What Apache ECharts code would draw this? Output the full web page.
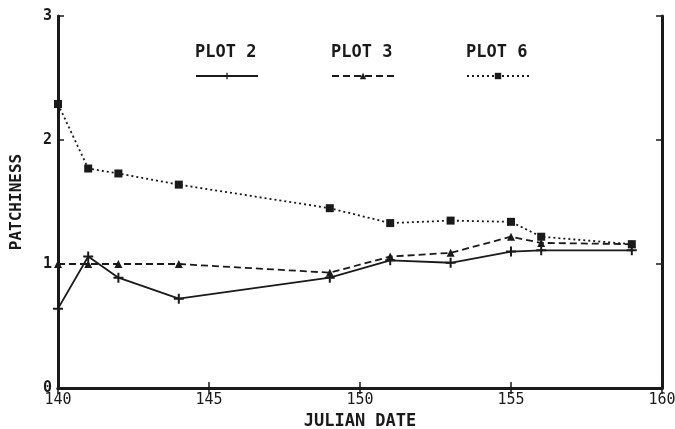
<!DOCTYPE html>
<html>
<head>
<meta charset="utf-8">
<script src="https://cdn.jsdelivr.net/npm/echarts@6/dist/echarts.min.js"></script>
<style>
  html, body { margin: 0; padding: 0; background: #fff; }
  #chart { width: 675px; height: 429px; }
</style>
</head>
<body>
<div id="chart"></div>
<script>
// julian dates sampled
var days = [140, 141, 142, 144, 149, 151, 153, 155, 156, 159];
// patchiness per plot
var plot2 = [0.64, 1.06, 0.89, 0.72, 0.89, 1.03, 1.01, 1.10, 1.11, 1.11];
var plot3 = [1.00, 1.00, 1.00, 1.00, 0.93, 1.06, 1.09, 1.22, 1.17, 1.16];
var plot6 = [2.29, 1.77, 1.73, 1.64, 1.45, 1.33, 1.35, 1.34, 1.22, 1.16];
var seriesNames = ['PLOT 2', 'PLOT 3', 'PLOT 6'];

var ink = '#1a1a1a';
var font = 'DejaVu Sans Mono';
var plusSym = 'path://M4,0H6V4H10V6H6V10H4V6H0V4H4Z';

function pairs(ys) {
    return days.map(function (d, i) { return [d, ys[i]]; });
}

function legendAt(i, x) {
    return {
        data: [seriesNames[i]], left: x, top: 72, padding: 0,
        itemWidth: 62, itemHeight: 8,
        formatter: function () { return ''; }
    };
}

var axisLine = { show: true, lineStyle: { color: ink, width: 3 } };
var tick = { show: true, inside: true, length: 6, lineStyle: { color: ink, width: 1.5 } };

var option = {
    animation: false,
    grid: { left: 58, right: 13, top: 16, bottom: 41, containLabel: false, outerBoundsMode: 'none' },
    legend: [legendAt(0, 195), legendAt(1, 331), legendAt(2, 466)],
    graphic: [
        { type: 'text', left: 195, top: 44, style: { text: seriesNames[0], font: 'bold 17px ' + font, fill: ink } },
        { type: 'text', left: 331, top: 44, style: { text: seriesNames[1], font: 'bold 17px ' + font, fill: ink } },
        { type: 'text', left: 466, top: 44, style: { text: seriesNames[2], font: 'bold 17px ' + font, fill: ink } }
    ],
    xAxis: [{
        type: 'value', min: 140, max: 160, interval: 5,
        name: 'JULIAN DATE', nameLocation: 'middle', nameGap: 24,
        nameTextStyle: { fontFamily: font, fontSize: 17, fontWeight: 'bold', color: ink },
        axisLine: axisLine, axisTick: tick,
        axisLabel: { fontFamily: font, fontSize: 15, color: ink, margin: 5 },
        splitLine: { show: false }
    }, {
        type: 'value', min: 140, max: 160, interval: 5, position: 'top',
        axisLine: axisLine, axisTick: tick,
        axisLabel: { show: false },
        splitLine: { show: false }
    }],
    yAxis: [{
        type: 'value', min: 0, max: 3, interval: 1,
        name: 'PATCHINESS', nameLocation: 'middle', nameGap: 33,
        nameTextStyle: { fontFamily: font, fontSize: 16, fontWeight: 'bold', color: ink },
        axisLine: axisLine, axisTick: tick,
        axisLabel: { fontFamily: font, fontSize: 15, fontWeight: 'bold', color: ink, margin: 6 },
        splitLine: { show: false }
    }, {
        type: 'value', min: 0, max: 3, interval: 1, position: 'right',
        axisLine: axisLine, axisTick: tick,
        axisLabel: { show: false },
        splitLine: { show: false }
    }],
    series: [{
        name: seriesNames[0], type: 'line', data: pairs(plot2),
        symbol: plusSym, symbolSize: 10,
        lineStyle: { color: ink, width: 1.8, type: 'solid' },
        itemStyle: { color: ink }
    }, {
        name: seriesNames[1], type: 'line', data: pairs(plot3),
        symbol: 'triangle', symbolSize: 8,
        lineStyle: { color: ink, width: 1.8, type: [7, 4] },
        itemStyle: { color: ink }
    }, {
        name: seriesNames[2], type: 'line', data: pairs(plot6),
        symbol: 'rect', symbolSize: 8,
        lineStyle: { color: ink, width: 1.8, type: [2, 3] },
        itemStyle: { color: ink }
    }]
};

var chart = echarts.init(document.getElementById('chart'));
chart.setOption(option);
</script>
</body>
</html>
